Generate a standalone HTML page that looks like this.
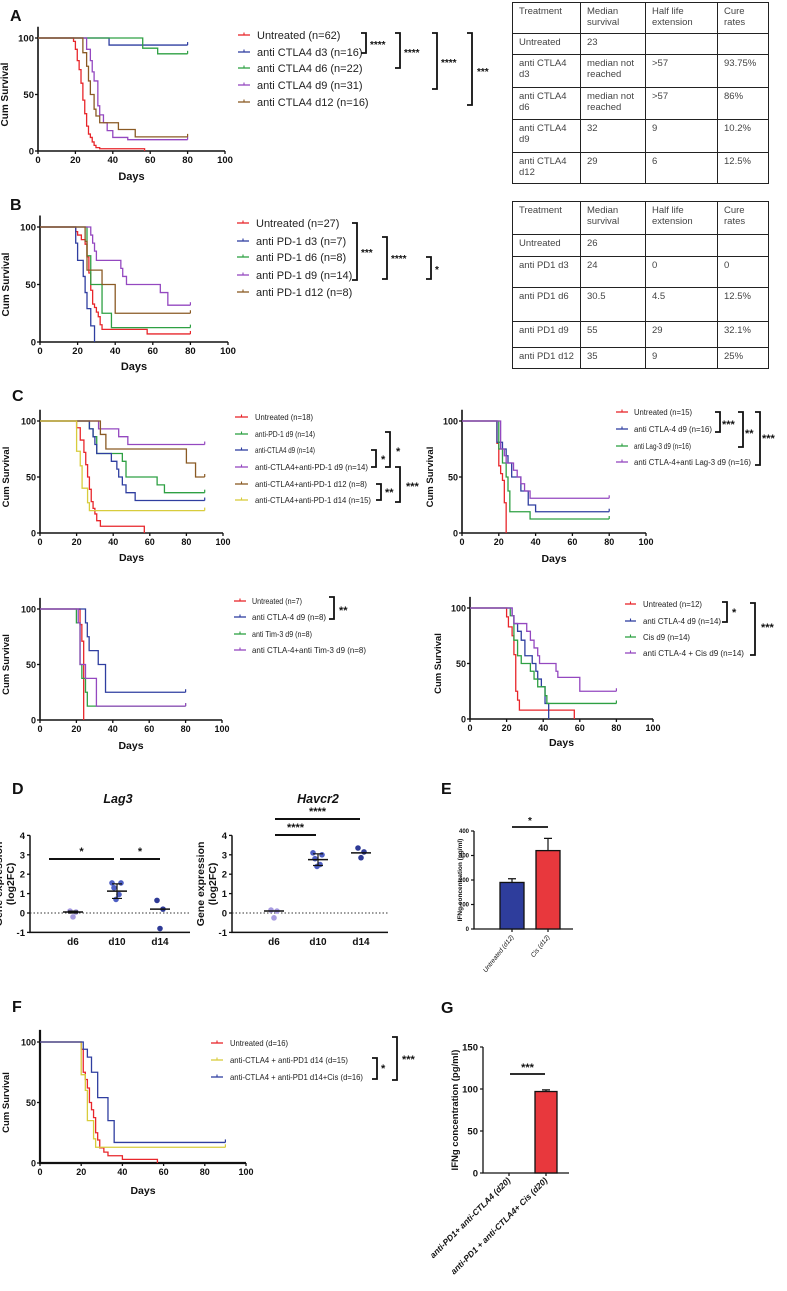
<!DOCTYPE html>
<html><head><meta charset="utf-8">
<style>
html,body{margin:0;padding:0;background:#fff;}
body{width:787px;height:1291px;position:relative;overflow:hidden;font-family:"Liberation Sans",sans-serif;}
svg{position:absolute;left:0;top:0;}
table.t{position:absolute;border-collapse:collapse;font-family:"Liberation Sans",sans-serif;font-size:9.5px;color:#444;table-layout:fixed;}
table.t td{border:1.5px solid #222;vertical-align:top;padding:3px 6px;line-height:11px;}
</style></head>
<body>
<svg id="fig" width="787" height="1291" viewBox="0 0 787 1291"></svg>

<table class="t" style="left:512px;top:2px;width:256px;height:181px">
<colgroup><col style="width:68px"><col style="width:65px"><col style="width:72px"><col style="width:51px"></colgroup>
<tr style="height:31px"><td>Treatment</td><td>Median survival</td><td>Half life extension</td><td>Cure rates</td></tr>
<tr style="height:21px"><td>Untreated</td><td>23</td><td></td><td></td></tr>
<tr style="height:33px"><td>anti CTLA4 d3</td><td>median not reached</td><td>&gt;57</td><td>93.75%</td></tr>
<tr style="height:32px"><td>anti CTLA4 d6</td><td>median not reached</td><td>&gt;57</td><td>86%</td></tr>
<tr style="height:33px"><td>anti CTLA4 d9</td><td>32</td><td>9</td><td>10.2%</td></tr>
<tr style="height:31px"><td>anti CTLA4 d12</td><td>29</td><td>6</td><td>12.5%</td></tr>
</table>
<table class="t" style="left:512px;top:201px;width:256px;height:167px">
<colgroup><col style="width:68px"><col style="width:65px"><col style="width:72px"><col style="width:51px"></colgroup>
<tr style="height:33px"><td>Treatment</td><td>Median survival</td><td>Half life extension</td><td>Cure rates</td></tr>
<tr style="height:22px"><td>Untreated</td><td>26</td><td></td><td></td></tr>
<tr style="height:31px"><td>anti PD1 d3</td><td>24</td><td>0</td><td>0</td></tr>
<tr style="height:34px"><td>anti PD1 d6</td><td>30.5</td><td>4.5</td><td>12.5%</td></tr>
<tr style="height:26px"><td>anti PD1 d9</td><td>55</td><td>29</td><td>32.1%</td></tr>
<tr style="height:21px"><td>anti PD1 d12</td><td>35</td><td>9</td><td>25%</td></tr>
</table>

<script>
// ---------- data ----------
const survTicksX=[0,20,40,60,80,100];
const survTicksY=[0,50,100];
// Panel A
const aUntrT=[19,20,21,22,23,24,25,26,27,28,29,30,31,33,57];
const aUntrS=[97,90,80,72,60,45,33,22,15,12,8,5,3,2,0];
const aD3T=[38];const aD3S=[93.75];
const aD6T=[56,64];const aD6S=[91,86];
const aD9T=[26,28,29,30,32,33,35,37,40,48];const aD9S=[90,80,70,62,40,32,25,18,12,10];
const aD12T=[24,26,27,28,30,31,33,43,52];const aD12S=[87,75,62,50,37,31,25,19,12.5];
// Panel B
const bUntrT=[19,20,22,24,25,26,27,28,29,30,31,32,33,57];
const bUntrS=[96,93,89,85,74,60,45,33,30,26,22,15,11,7];
const bD3T=[19,20,23,24,25,27,29];const bD3S=[86,71,57,43,29,14,0];
const bD6T=[25,27,33,38];const bD6S=[75,50,25,12.5];
const bD9T=[27,28,29,30,43,44,46,64,68];const bD9S=[93,86,79,71,64,57,50,43,32];
const bD12T=[24,25,33,40];const bD12S=[87.5,62.5,50,25];
// Panel C top-left
const c1UntrT=[20,22,24,25,26,27,28,29,30,31,33,57];const c1UntrS=[94,83,72,61,50,39,28,22,17,11,6,0];
const c1Pd1T=[27,29,31,45,47,64,68];const c1Pd1S=[93,86,71,64,50,43,36];
const c1CtlaT=[27,29,30,31,39,42,43,45,47,52];const c1CtlaS=[93,86,79,71,64,57,50,43,36,29];
const c1ComboD9T=[32,43,48];const c1ComboD9S=[93,86,79];
const c1ComboD12T=[33,36,80,85];const c1ComboD12S=[88,75,62.5,50];
const c1ComboD14T=[20,22,23,26,27];const c1ComboD14S=[73,60,40,27,20];
// Panel C top-right
const c2UntrT=[19,20,21,22,23,24];const c2UntrS=[80,60,53,47,27,0];
const c2CtlaT=[19,22,24,25,27,32,36,40];const c2CtlaS=[81,75,69,62.5,50,37.5,25,19];
const c2LagT=[20,22,24,25,26,37];const c2LagS=[75,62.5,50,37.5,19,12.5];
const c2ComboT=[21,23,24,28,30,32,34,37];const c2ComboS=[75,69,62.5,56,50,44,37.5,31];
// Panel C bottom-left
const c3UntrT=[22,23,24];const c3UntrS=[86,71,0];
const c3CtlaT=[25,26,27,32,36];const c3CtlaS=[87.5,75,62.5,50,25];
const c3TimT=[20,22,23,25,26];const c3TimS=[87.5,50,37.5,25,12.5];
const c3ComboT=[21,22,25,31];const c3ComboS=[87.5,50,37.5,12.5];
// Panel C bottom-right
const c4UntrT=[20,21,23,24,25,26,27,57];const c4UntrS=[92,83,75,58,25,17,8,0];
const c4CtlaT=[23,24,26,28,30,34,36,37,39,41,43];const c4CtlaS=[93,86,79,71,57,50,43,36,29,14,0];
const c4CisT=[22,24,26,28,33,35,37,41,42];const c4CisS=[93,71,57,50,43,36,29,21,14];
const c4ComboT=[23,24,31,33,35,37,38,47,48,60];const c4ComboS=[93,86,79,71,64,57,50,43,37.5,25];
// Panel F
const fUntrT=[20,21,22,23,24,25,26,27,28,29,31,33,40,57];const fUntrS=[94,75,69,62,50,44,37.5,25,19,12.5,9,6,3,0];
const fYelT=[20,22,23,26,27];const fYelS=[73,60,35,20,13];
const fBlueT=[21,23,25,28,33,36];const fBlueS=[94,87.5,75,54,35,17];
// Panel D
const dCats=['d6','d10','d14'];
const lagD6=[0.1,0.05,-0.2];const lagD10=[1.55,1.55,1.3,0.95,0.7];const lagD14=[0.65,0.2,-0.8];
const lagMean=[0.05,1.13,0.2];const lagErrLo=[0,0.75,0.2];const lagErrHi=[0.1,1.5,0.2];
const havD6=[0.15,0.1,-0.25];const havD10=[3.1,3.0,2.8,2.5,2.4];const havD14=[3.35,3.15,2.85];
const havMean=[0.1,2.75,3.1];const havErrLo=[0.1,2.45,3.1];const havErrHi=[0.1,3.05,3.1];
const dTicks=[-1,0,1,2,3,4];
// Panel E
const eCats=['Untreated (d12)','Cis (d12)'];const eVals=[190,320];const eErr=[15,50];const eTicks=[0,100,200,300,400];
// Panel G
const gCats=['anti-PD1+ anti-CTLA4 (d20)','anti-PD1 + anti-CTLA4+ Cis (d20)'];const gVals=[0,97];const gErr=[0,2];const gTicks=[0,50,100,150];

// ---------- helpers ----------
const NS='http://www.w3.org/2000/svg';
const svg=document.getElementById('fig');
function el(tag,parent){const e=document.createElementNS(NS,tag);(parent||svg).appendChild(e);return e;}
function setA(e,o){for(const k in o)e.setAttribute(k,o[k]);return e;}
function txt(s,x,y,size,opts,parent){const t=el('text',parent);setA(t,Object.assign({x:x,y:y,'font-size':size,'font-family':'Liberation Sans, sans-serif',fill:'#111'},opts||{}));t.textContent=s;return t;}

const RED='#e8262b',BLUE='#2f3ea0',GREEN='#2ea043',PURPLE='#9448c0',BROWN='#8a5a24',YEL='#d8cc3c';

function survChart(name,g,series){
  const grp=el('g');
  
  
  const xs=v=>g.x0+(g.x100-g.x0)*v/100;
  const ys=v=>g.y0+(g.y100-g.y0)*v/100;
  const ax=el('path',grp);
  
  
  setA(ax,{d:`M${g.x0} ${g.y100-(g.y0-g.y100)*0.1}V${g.y0}H${g.x100}`,stroke:'#111','stroke-width':g.aw||1.6,fill:'none'});
  survTicksX.forEach(v=>{
    const tk=el('line',grp);setA(tk,{x1:xs(v),x2:xs(v),y1:g.y0,y2:g.y0+3,stroke:'#111','stroke-width':1.3});
    const l=txt(String(v),xs(v),g.y0+12,g.fs,{'text-anchor':'middle','font-weight':'bold'},grp);
    
    
  });
  survTicksY.forEach(v=>{
    const tk=el('line',grp);setA(tk,{x1:g.x0-3,x2:g.x0,y1:ys(v),y2:ys(v),stroke:'#111','stroke-width':1.3});
    const l=txt(String(v),g.x0-4,ys(v)+3.5,g.fs,{'text-anchor':'end','font-weight':'bold'},grp);
    
    
  });
  const xt=txt('Days',(g.x0+g.x100)/2,g.daysY,g.fs+1.5,{'text-anchor':'middle','font-weight':'bold'},grp);
  
  
  const yc=(g.y0+g.y100)/2;
  const yt=txt('Cum Survival',g.ylx,yc,g.fs+0.5,{'text-anchor':'middle','font-weight':'bold',transform:`rotate(-90 ${g.ylx} ${yc})`},grp);
  
  
  series.forEach((s,i)=>{
    let d=`M${xs(0)} ${ys(100)}`;
    for(let k=0;k<s.t.length;k++){d+=`H${xs(s.t[k])}V${ys(s.s[k])}`;}
    const last=s.s.length?s.s[s.s.length-1]:100;
    if(last>0)d+=`H${xs(s.end)}`;
    const p=el('path',grp);
    
    
    setA(p,{d:d,stroke:s.c,'stroke-width':1.3,fill:'none'});
    if(last>0){const c=el('line',grp);setA(c,{x1:xs(s.end),x2:xs(s.end),y1:ys(last)-3,y2:ys(last),stroke:s.c,'stroke-width':1.2});}
    // legend
    const ly=g.legY[i];
    const lg=el('g',grp);
    
    
    const ll=el('line',lg);setA(ll,{x1:g.legX,x2:g.legX+g.legL,y1:ly,y2:ly,stroke:s.c,'stroke-width':1.3});
    const lt=el('line',lg);setA(lt,{x1:g.legX+g.legL/2,x2:g.legX+g.legL/2,y1:ly-2.5,y2:ly,stroke:s.c,'stroke-width':1.1});
    txt(s.label,g.legX+g.legL+g.legGap,ly+g.lfs*0.36,g.lfs,{fill:'#222',textLength:g.lw?g.lw[i]:null,lengthAdjust:'spacingAndGlyphs'},lg);
  });
  (g.br||[]).forEach(b=>{
    const p=el('path',grp);
    
    
    setA(p,{d:`M${b[0]-5} ${b[1]}H${b[0]}V${b[2]}H${b[0]-5}`,stroke:'#111','stroke-width':1.8,fill:'none'});
    txt(b[3],b[4],b[5],b[6]||11,{'font-weight':'bold'},grp);
  });
  return grp;
}
function clean(o){for(const k in o)if(o[k]==null)delete o[k];return o;}

// panel letters
[['A',10,21],['B',10,210],['C',12,401],['D',12,794],['E',441,794],['F',12,1012],['G',441,1013]].forEach(p=>{
  const t=txt(p[0],p[1],p[2],16,{'font-weight':'bold'});
  
  
});

survChart('chart-a',{x0:38,x100:225,y100:38,y0:151,fs:9.5,daysY:180,ylx:8,legX:238,legL:12,legGap:7,lfs:11,legY:[35,52,68,85,102],
 br:[[366,33,53,'****',370,48,10],[400,33,68,'****',404,56,10],[437,33,89,'****',441,66,10],[472,33,105,'***',477,75,10]]},[
 {key:'untreated',t:aUntrT,s:aUntrS,end:57,c:RED,label:'Untreated (n=62)'},
 {key:'ctla4-d3',t:aD3T,s:aD3S,end:80,c:BLUE,label:'anti CTLA4 d3 (n=16)'},
 {key:'ctla4-d6',t:aD6T,s:aD6S,end:80,c:GREEN,label:'anti CTLA4 d6 (n=22)'},
 {key:'ctla4-d9',t:aD9T,s:aD9S,end:80,c:PURPLE,label:'anti CTLA4 d9 (n=31)'},
 {key:'ctla4-d12',t:aD12T,s:aD12S,end:80,c:BROWN,label:'anti CTLA4 d12 (n=16)'}]);

survChart('chart-b',{x0:40,x100:228,y100:227,y0:342,fs:9.5,daysY:370,ylx:9,legX:237,legL:12,legGap:7,lfs:11,legY:[223,241,257,275,292],
 br:[[357,223,280,'***',361,256,10],[387,237,279,'****',391,262,10],[431,257,279,'*',435,273,10]]},[
 {key:'untreated',t:bUntrT,s:bUntrS,end:80,c:RED,label:'Untreated (n=27)'},
 {key:'pd1-d3',t:bD3T,s:bD3S,end:80,c:BLUE,label:'anti PD-1 d3 (n=7)'},
 {key:'pd1-d6',t:bD6T,s:bD6S,end:80,c:GREEN,label:'anti PD-1 d6 (n=8)'},
 {key:'pd1-d9',t:bD9T,s:bD9S,end:80,c:PURPLE,label:'anti PD-1 d9 (n=14)'},
 {key:'pd1-d12',t:bD12T,s:bD12S,end:80,c:BROWN,label:'anti PD-1 d12 (n=8)'}]);

survChart('chart-c-pd1-ctla4',{x0:40,x100:223,y100:421,y0:533,fs:9,daysY:561,ylx:9,legX:235,legL:13,legGap:7,lfs:8.5,
 legY:[417,434,450,467,484,500],lw:[58,60,60,113,112,116],
 br:[[376,450,467,'*',381,463,11],[390,432,467,'*',396,455,11],[381,484,500,'**',385,496,11],[400,467,502,'***',406,490,11]]},[
 {key:'untreated',t:c1UntrT,s:c1UntrS,end:57,c:RED,label:'Untreated (n=18)'},
 {key:'pd1-d9',t:c1Pd1T,s:c1Pd1S,end:90,c:GREEN,label:'anti-PD-1 d9 (n=14)'},
 {key:'ctla4-d9',t:c1CtlaT,s:c1CtlaS,end:90,c:BLUE,label:'anti-CTLA4 d9 (n=14)'},
 {key:'combo-d9',t:c1ComboD9T,s:c1ComboD9S,end:90,c:PURPLE,label:'anti-CTLA4+anti-PD-1 d9 (n=14)'},
 {key:'combo-d12',t:c1ComboD12T,s:c1ComboD12S,end:90,c:BROWN,label:'anti-CTLA4+anti-PD-1 d12 (n=8)'},
 {key:'combo-d14',t:c1ComboD14T,s:c1ComboD14S,end:90,c:YEL,label:'anti-CTLA4+anti-PD-1 d14 (n=15)'}]);

survChart('chart-c-lag3',{x0:462,x100:646,y100:421,y0:533,fs:9,daysY:562,ylx:433,legX:616,legL:12,legGap:6,lfs:8,
 legY:[412,429,446,462],lw:[58,78,57,117],
 br:[[720,412,432,'***',722,428,11],[743,412,447,'**',745,437,11],[760,412,465,'***',762,442,11]]},[
 {key:'untreated',t:c2UntrT,s:c2UntrS,end:24,c:RED,label:'Untreated (n=15)'},
 {key:'ctla4-d9',t:c2CtlaT,s:c2CtlaS,end:80,c:BLUE,label:'anti CTLA-4 d9 (n=16)'},
 {key:'lag3-d9',t:c2LagT,s:c2LagS,end:80,c:GREEN,label:'anti Lag-3 d9 (n=16)'},
 {key:'combo-d9',t:c2ComboT,s:c2ComboS,end:80,c:PURPLE,label:'anti CTLA-4+anti Lag-3 d9 (n=16)'}]);

survChart('chart-c-tim3',{x0:40,x100:222,y100:609,y0:720,fs:9,daysY:749,ylx:9,legX:234,legL:12,legGap:6,lfs:8.5,
 legY:[601,617,634,650],lw:[50,74,60,114],
 br:[[334,597,619,'**',339,614,11]]},[
 {key:'untreated',t:c3UntrT,s:c3UntrS,end:24,c:RED,label:'Untreated (n=7)'},
 {key:'ctla4-d9',t:c3CtlaT,s:c3CtlaS,end:80,c:BLUE,label:'anti CTLA-4 d9 (n=8)'},
 {key:'tim3-d9',t:c3TimT,s:c3TimS,end:80,c:GREEN,label:'anti Tim-3 d9 (n=8)'},
 {key:'combo-d9',t:c3ComboT,s:c3ComboS,end:80,c:PURPLE,label:'anti CTLA-4+anti Tim-3 d9 (n=8)'}]);

survChart('chart-c-cis',{x0:470,x100:653,y100:608,y0:719,fs:9,daysY:746,ylx:441,legX:625,legL:11,legGap:7,lfs:8,
 legY:[604,621,637,653],lw:[59,78,47,101],
 br:[[727,602,622,'*',732,616,11],[755,603,655,'***',761,631,11]]},[
 {key:'untreated',t:c4UntrT,s:c4UntrS,end:57,c:RED,label:'Untreated (n=12)'},
 {key:'ctla4-d9',t:c4CtlaT,s:c4CtlaS,end:43,c:BLUE,label:'anti CTLA-4 d9 (n=14)'},
 {key:'cis-d9',t:c4CisT,s:c4CisS,end:80,c:GREEN,label:'Cis d9 (n=14)'},
 {key:'combo-d9',t:c4ComboT,s:c4ComboS,end:80,c:PURPLE,label:'anti CTLA-4 + Cis d9 (n=14)'}]);

survChart('chart-f',{x0:40,x100:246,y100:1042,y0:1163,fs:9,daysY:1194,ylx:9,legX:211,legL:12,legGap:7,lfs:8.5,aw:2.2,
 legY:[1043,1060,1077],lw:[58,118,133],
 br:[[377,1058,1079,'*',381,1072,11],[397,1037,1080,'***',402,1063,11]]},[
 {key:'untreated',t:fUntrT,s:fUntrS,end:57,c:RED,label:'Untreated (d=16)'},
 {key:'combo-d14',t:fYelT,s:fYelS,end:90,c:YEL,label:'anti-CTLA4 + anti-PD1 d14 (d=15)'},
 {key:'combo-d14-cis',t:fBlueT,s:fBlueS,end:90,c:BLUE,label:'anti-CTLA4 + anti-PD1 d14+Cis (d=16)'}]);

// ---------- Panel D ----------
function dotChart(name,title,g,groups,mean,lo,hi,cols,bars){
  const grp=el('g');
  
  
  const ys=v=>g.yz-(v)*g.k;
  const xs=i=>g.xc[i];
  const t=txt(title,(g.x0+g.x1)/2+8,803,12.5,{'text-anchor':'middle','font-weight':'bold','font-style':'italic'},grp);
  
  
  const ax=el('path',grp);
  
  
  setA(ax,{d:`M${g.x0} ${ys(4)}V${ys(-1)}H${g.x1}`,stroke:'#111','stroke-width':1.5,fill:'none'});
  const zl=el('line',grp);setA(zl,{x1:g.x0,x2:g.x1,y1:ys(0),y2:ys(0),stroke:'#333','stroke-width':1,'stroke-dasharray':'1.5,2'});
  dTicks.forEach(v=>{
    const tk=el('line',grp);setA(tk,{x1:g.x0-3,x2:g.x0,y1:ys(v),y2:ys(v),stroke:'#111','stroke-width':1.3});
    txt(String(v),g.x0-5,ys(v)+3.5,9.5,{'text-anchor':'end','font-weight':'bold'},grp);
  });
  dCats.forEach((c,i)=>{
    const l=txt(c,xs(i),945,10,{'text-anchor':'middle','font-weight':'bold'},grp);
    
    
  });
  const yl=g.x0-22,yc=ys(1.5);
  const yt=txt('Gene expression',yl-6,yc,10.5,{'text-anchor':'middle','font-weight':'bold',transform:`rotate(-90 ${yl-6} ${yc})`},grp);
  
  
  txt('(log2FC)',yl+6,yc,10.5,{'text-anchor':'middle','font-weight':'bold',transform:`rotate(-90 ${yl+6} ${yc})`},grp);
  groups.forEach((arr,i)=>{
    arr.forEach((v,j)=>{
      const off=arr.length>3?[-5,4,-3,2,-1][j]:[-3,3,0][j];
      const c=el('circle',grp);
      
      
      setA(c,{cx:xs(i)+off,cy:ys(v),r:2.8,fill:cols[i]});
    });
    const m=el('line',grp);
    
    
    setA(m,{x1:xs(i)-10,x2:xs(i)+10,y1:ys(mean[i]),y2:ys(mean[i]),stroke:'#111','stroke-width':1.5});
    if(hi[i]>lo[i]){
      const e=el('path',grp);setA(e,{d:`M${xs(i)} ${ys(hi[i])}V${ys(lo[i])}M${xs(i)-5} ${ys(hi[i])}H${xs(i)+5}M${xs(i)-5} ${ys(lo[i])}H${xs(i)+5}`,stroke:'#111','stroke-width':1.2,fill:'none'});
    }
  });
  bars.forEach(b=>{
    const l=el('line',grp);
    
    
    setA(l,{x1:b[0],x2:b[1],y1:b[2],y2:b[2],stroke:'#111','stroke-width':2});
    txt(b[3],(b[0]+b[1])/2,b[2]-4,11,{'text-anchor':'middle','font-weight':'bold'},grp);
  });
}
const lagCols=['#a79be0','#4e5fc4','#2e3a96'];
dotChart('chart-d-lag3','Lag3',{x0:30,x1:190,yz:913,k:19.4,xc:[73,117,160]},[lagD6,lagD10,lagD14],lagMean,lagErrLo,lagErrHi,lagCols,
 [[49,114,859,'*'],[120,160,859,'*']]);
dotChart('chart-d-havcr2','Havcr2',{x0:232,x1:388,yz:913,k:19.4,xc:[274,318,361]},[havD6,havD10,havD14],havMean,havErrLo,havErrHi,lagCols,
 [[275,316,835,'****'],[275,360,819,'****']]);

// ---------- Bar charts E, G ----------
function barChart(name,g,cats,vals,errs,ticks,cols,sig){
  const grp=el('g');
  
  
  const ys=v=>g.y0-(g.y0-g.ytop)*v/g.max;
  const ax=el('path',grp);
  
  
  setA(ax,{d:`M${g.x0} ${g.ytop}V${g.y0}H${g.x1}`,stroke:'#111','stroke-width':1.3,fill:'none'});
  ticks.forEach(v=>{
    const tk=el('line',grp);setA(tk,{x1:g.x0-3,x2:g.x0,y1:ys(v),y2:ys(v),stroke:'#111','stroke-width':1.2});
    txt(String(v),g.x0-5,ys(v)+g.fs*0.35,g.fs,{'text-anchor':'end','font-weight':'bold'},grp);
  });
  cats.forEach((c,i)=>{
    const cx=g.xc[i];
    const tk=el('line',grp);setA(tk,{x1:cx,x2:cx,y1:g.y0,y2:g.y0+3,stroke:'#111','stroke-width':1.2});
    if(vals[i]>0){
      const r=el('rect',grp);
      
      
      setA(r,{x:cx-g.bw/2,y:ys(vals[i]),width:g.bw,height:g.y0-ys(vals[i]),fill:cols[i],stroke:'#111','stroke-width':1.3});
      const e=el('path',grp);setA(e,{d:`M${cx} ${ys(vals[i])}V${ys(vals[i]+errs[i])}M${cx-4} ${ys(vals[i]+errs[i])}H${cx+4}`,stroke:'#111','stroke-width':1.2,fill:'none'});
    }
    const l=txt(c,cx+2,g.y0+8,g.lfs,{'text-anchor':'end','font-weight':g.lbold,'font-style':'italic',transform:`rotate(${g.rot} ${cx+2} ${g.y0+8})`},grp);
    
    
  });
  const yc=(g.y0+g.ytop)/2;
  const yt=txt('IFNg concentration (pg/ml)',g.ylx,yc,g.yfs,{'text-anchor':'middle','font-weight':'bold',transform:`rotate(-90 ${g.ylx} ${yc})`},grp);
  
  
  const s=el('line',grp);
  
  
  setA(s,{x1:sig[0],x2:sig[1],y1:sig[2],y2:sig[2],stroke:'#111','stroke-width':1.8});
  txt(sig[3],(sig[0]+sig[1])/2,sig[2]-3,sig[4],{'text-anchor':'middle','font-weight':'bold'},grp);
}
barChart('chart-e-ifng',{x0:474,x1:573,y0:929,ytop:831,max:400,xc:[512,548],bw:24,fs:6,lfs:6.5,lbold:'normal',rot:-52,ylx:462,yfs:6.5},
 eCats,eVals,eErr,eTicks,['#2e3d9c','#e8383d'],[512,548,827,'*',10]);
barChart('chart-g-ifng',{x0:483,x1:569,y0:1173,ytop:1047,max:150,xc:[509,546],bw:22,fs:9.5,lfs:8.5,lbold:'bold',rot:-45,ylx:458,yfs:9.5},
 gCats,gVals,gErr,gTicks,['#e8383d','#e8383d'],[510,545,1074,'***',11]);
</script>
</body></html>
